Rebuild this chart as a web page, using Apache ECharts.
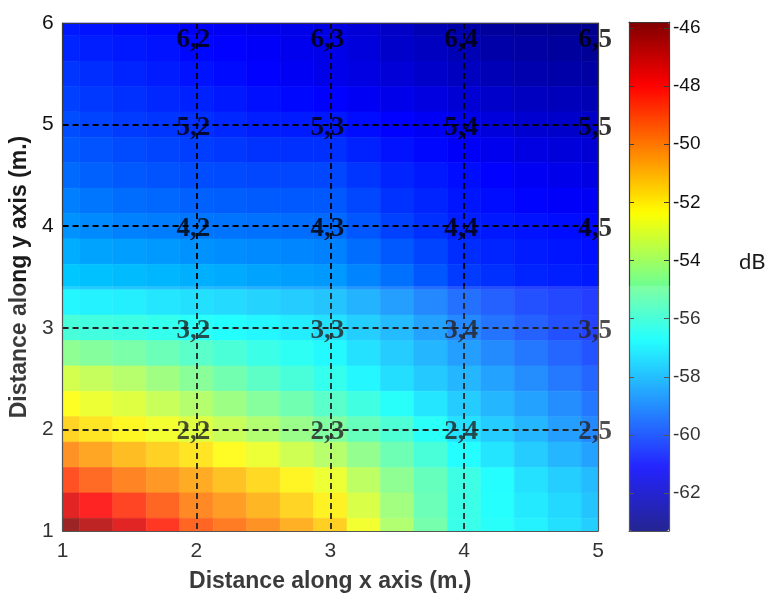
<!DOCTYPE html>
<html>
<head>
<meta charset="utf-8">
<script src="https://cdn.jsdelivr.net/npm/echarts@6/dist/echarts.min.js"></script>
<style>
  html, body { margin: 0; padding: 0; background: #fff; }
  #chart { width: 778px; height: 608px; }
</style>
</head>
<body>
<div id="chart"></div>
<script>
// Measurement grid (metres) and received signal strength (dB) at each node
const xPositions = [1, 1.25, 1.5, 1.75, 2, 2.25, 2.5, 2.75, 3, 3.25, 3.5, 3.75, 4, 4.25, 4.5, 4.75, 5];
const yPositions = [6, 5.75, 5.5, 5.25, 5, 4.75, 4.5, 4.25, 4, 3.75, 3.5, 3.25, 3, 2.75, 2.5, 2.25, 2, 1.75, 1.5, 1.25, 1];
const rssRows = [
  [-60.7,-60.8,-60.9,-61.0,-61.2,-61.3,-61.4,-61.5,-61.6,-61.8,-62.1,-62.4,-62.6,-62.8,-62.9,-63.0,-63.1],
  [-60.5,-60.6,-60.7,-60.8,-61.0,-61.1,-61.2,-61.4,-61.5,-61.7,-62.0,-62.2,-62.4,-62.6,-62.7,-62.8,-62.9],
  [-60.2,-60.35,-60.5,-60.65,-60.8,-60.95,-61.1,-61.3,-61.5,-61.6,-61.8,-62.0,-62.2,-62.35,-62.5,-62.6,-62.7],
  [-60.0,-60.15,-60.3,-60.45,-60.55,-60.7,-60.85,-61.0,-61.1,-61.3,-61.45,-61.65,-61.85,-62.0,-62.2,-62.3,-62.4],
  [-59.8,-59.95,-60.1,-60.2,-60.3,-60.45,-60.6,-60.65,-60.7,-60.9,-61.1,-61.3,-61.5,-61.7,-61.9,-62.0,-62.1],
  [-59.55,-59.7,-59.85,-59.95,-60.05,-60.15,-60.25,-60.3,-60.3,-60.55,-60.8,-61.0,-61.2,-61.4,-61.6,-61.75,-61.85],
  [-59.3,-59.45,-59.6,-59.7,-59.8,-59.85,-59.9,-59.9,-59.9,-60.2,-60.5,-60.7,-60.9,-61.1,-61.3,-61.45,-61.6],
  [-58.95,-59.1,-59.25,-59.35,-59.45,-59.5,-59.55,-59.6,-59.6,-59.9,-60.25,-60.5,-60.75,-60.9,-61.05,-61.2,-61.3],
  [-58.6,-58.75,-58.9,-59.0,-59.1,-59.15,-59.2,-59.25,-59.3,-59.65,-60.0,-60.3,-60.6,-60.7,-60.8,-60.9,-61.0],
  [-58.15,-58.3,-58.4,-58.5,-58.6,-58.7,-58.75,-58.8,-58.9,-59.25,-59.6,-59.95,-60.35,-60.5,-60.65,-60.75,-60.85],
  [-57.7,-57.8,-57.9,-58.0,-58.1,-58.2,-58.3,-58.4,-58.5,-58.85,-59.2,-59.65,-60.1,-60.3,-60.5,-60.6,-60.7],
  [-56.9,-57.0,-57.05,-57.2,-57.35,-57.45,-57.6,-57.75,-57.9,-58.25,-58.65,-59.1,-59.6,-59.9,-60.2,-60.4,-60.6],
  [-56.0,-56.1,-56.2,-56.4,-56.6,-56.75,-56.9,-57.1,-57.3,-57.7,-58.1,-58.6,-59.1,-59.5,-59.9,-60.2,-60.5],
  [-54.6,-54.8,-55.0,-55.3,-55.65,-55.95,-56.25,-56.55,-56.85,-57.3,-57.75,-58.2,-58.65,-59.05,-59.45,-59.8,-60.15],
  [-53.2,-53.5,-53.8,-54.25,-54.7,-55.15,-55.6,-56.0,-56.4,-56.9,-57.4,-57.8,-58.2,-58.6,-59.0,-59.4,-59.8],
  [-52.35,-52.7,-53.0,-53.45,-53.85,-54.3,-54.75,-55.2,-55.65,-56.15,-56.65,-57.2,-57.75,-58.2,-58.6,-59.0,-59.45],
  [-51.5,-51.85,-52.2,-52.6,-53.0,-53.45,-53.9,-54.4,-54.9,-55.4,-55.9,-56.6,-57.3,-57.75,-58.2,-58.65,-59.1],
  [-50.2,-50.6,-51.05,-51.45,-51.85,-52.3,-52.75,-53.3,-53.8,-54.5,-55.25,-56.0,-56.75,-57.25,-57.75,-58.2,-58.6],
  [-48.9,-49.4,-49.9,-50.3,-50.7,-51.15,-51.6,-52.15,-52.7,-53.65,-54.6,-55.4,-56.2,-56.75,-57.3,-57.7,-58.1],
  [-47.4,-48.0,-48.65,-49.3,-50.0,-50.4,-50.9,-51.5,-52.1,-53.1,-54.2,-55.3,-56.25,-56.7,-57.15,-57.5,-57.9],
  [-46.0,-46.7,-47.4,-48.4,-49.3,-49.75,-50.2,-50.8,-51.4,-52.6,-53.9,-55.1,-56.3,-56.65,-57.0,-57.35,-57.7]
];

// Reference point labels "row,column"
const pointCols = [2, 3, 4, 5];
const pointRows = [6, 5, 4, 3, 2];

// Axis ranges and colour-scale ticks
const X_MIN = 1, X_MAX = 5, Y_MIN = 1, Y_MAX = 6;
const DB_MIN = -63.3, DB_MAX = -45.8;
const dbTicks = [-62, -60, -58, -56, -54, -52, -50, -48, -46];
const CELL = 0.25;

const JET = ['#000080', '#0000ff', '#0080ff', '#00ffff', '#80ff80', '#ffff00', '#ff8000', '#ff0000', '#800000'];

const fieldData = [];
yPositions.forEach((y, i) => {
  xPositions.forEach((x, j) => fieldData.push([x, y, rssRows[i][j]]));
});

const labelData = [];
pointRows.forEach(r => pointCols.forEach(c => {
  labelData.push({
    value: [c, r],
    label: { formatter: r + ',' + c, offset: r === Y_MAX ? [-3, 17] : [-3, 3] }
  });
}));

const chart = echarts.init(document.getElementById('chart'), null, { renderer: 'canvas' });

const tickFont = { fontFamily: 'Liberation Sans', fontSize: 21, color: '#111' };
const titleFont = { fontFamily: 'Liberation Sans', fontSize: 23, fontWeight: 'bold', color: '#1a1a1a' };
const frame = { show: true, onZero: false, lineStyle: { color: '#3a3a3a', width: 1.2 } };

chart.setOption({
  animation: false,
  backgroundColor: '#ffffff',
  grid: [
    { left: 58, top: 23, width: 540, height: 508 },
    { left: 629, top: 22, width: 40, height: 509 }
  ],
  xAxis: [
    {
      type: 'value', gridIndex: 0, min: X_MIN, max: X_MAX, interval: 1, z: 10,
      axisLine: frame, axisTick: { show: false },
      axisLabel: Object.assign({ margin: 10 }, tickFont),
      splitLine: { show: true, showMinLine: false, showMaxLine: false,
        lineStyle: { color: '#000', width: 1.8, type: [6, 4] } },
      name: 'Distance along x axis (m.)', nameLocation: 'middle', nameGap: 39,
      nameTextStyle: titleFont
    },
    {
      type: 'value', gridIndex: 0, position: 'top', min: X_MIN, max: X_MAX, z: 10,
      axisLine: frame, axisTick: { show: false }, axisLabel: { show: false }, splitLine: { show: false }
    },
    {
      type: 'value', gridIndex: 1, min: 0, max: 1, z: 10,
      axisLine: frame, axisTick: { show: false }, axisLabel: { show: false }, splitLine: { show: false }
    },
    {
      type: 'value', gridIndex: 1, position: 'top', min: 0, max: 1, z: 10,
      axisLine: frame, axisTick: { show: false }, axisLabel: { show: false }, splitLine: { show: false }
    }
  ],
  yAxis: [
    {
      type: 'value', gridIndex: 0, min: Y_MIN, max: Y_MAX, interval: 1, z: 10,
      axisLine: frame, axisTick: { show: false },
      axisLabel: Object.assign({ margin: 9 }, tickFont),
      splitLine: { show: true, showMinLine: false, showMaxLine: false,
        lineStyle: { color: '#000', width: 1.8, type: [6, 4] } },
      name: 'Distance along y axis (m.)', nameLocation: 'middle', nameGap: 25, nameRotate: 90,
      nameTextStyle: titleFont
    },
    {
      type: 'value', gridIndex: 0, position: 'right', min: Y_MIN, max: Y_MAX, z: 10,
      axisLine: frame, axisTick: { show: false }, axisLabel: { show: false }, splitLine: { show: false }
    },
    {
      type: 'value', gridIndex: 1, position: 'left', min: DB_MIN, max: DB_MAX, z: 10,
      axisLine: frame,
      axisTick: { show: true, inside: true, length: 5, customValues: dbTicks, lineStyle: { color: '#3a3a3a' } },
      axisLabel: { show: false }, splitLine: { show: false }
    },
    {
      type: 'value', gridIndex: 1, position: 'right', min: DB_MIN, max: DB_MAX, z: 10,
      axisLine: frame,
      axisTick: { show: true, inside: true, length: 5, customValues: dbTicks, lineStyle: { color: '#3a3a3a' } },
      axisLabel: { show: true, customValues: dbTicks, margin: 4, fontFamily: 'Liberation Sans', fontSize: 19, color: '#111' },
      splitLine: { show: false }
    }
  ],
  visualMap: {
    type: 'continuous', min: DB_MIN, max: DB_MAX, dimension: 2, seriesIndex: 0,
    inRange: { color: JET },
    left: 629, top: 22, itemWidth: 40, itemHeight: 509, padding: 0,
    calculable: false, hoverLink: false, text: null, z: 4
  },
  series: [
    {
      type: 'custom', xAxisIndex: 0, yAxisIndex: 0, data: fieldData, z: 2,
      renderItem: function (params, api) {
        const x = api.value(0), y = api.value(1);
        const x0 = Math.max(X_MIN, x - CELL / 2), x1 = Math.min(X_MAX, x + CELL / 2);
        const y0 = Math.max(Y_MIN, y - CELL / 2), y1 = Math.min(Y_MAX, y + CELL / 2);
        const a = api.coord([x0, y1]);
        const b = api.coord([x1, y0]);
        const color = api.visual('color');
        return {
          type: 'rect',
          shape: { x: a[0], y: a[1], width: b[0] - a[0], height: b[1] - a[1] },
          style: { fill: color, stroke: color, lineWidth: 0.6 }
        };
      }
    },
    {
      type: 'scatter', xAxisIndex: 0, yAxisIndex: 0, data: labelData, z: 20,
      symbolSize: 1, itemStyle: { color: 'rgba(0,0,0,0)' }, silent: true,
      label: {
        show: true, position: 'inside',
        fontFamily: 'Liberation Serif', fontWeight: 'bold', fontSize: 27, color: '#000',
        textBorderWidth: 0
      }
    }
  ],
  graphic: [
    {
      type: 'text', left: 739, top: 251, silent: true,
      style: { text: 'dB', fontFamily: 'Lato', fontSize: 22, fill: '#1a1a1a' }
    },
    {
      type: 'rect', silent: true, z: 100,
      shape: { x: 0, y: 286, width: 778, height: 322 },
      style: { fill: 'rgba(255,255,255,0.14)' }
    }
  ]
});
</script>
</body>
</html>
